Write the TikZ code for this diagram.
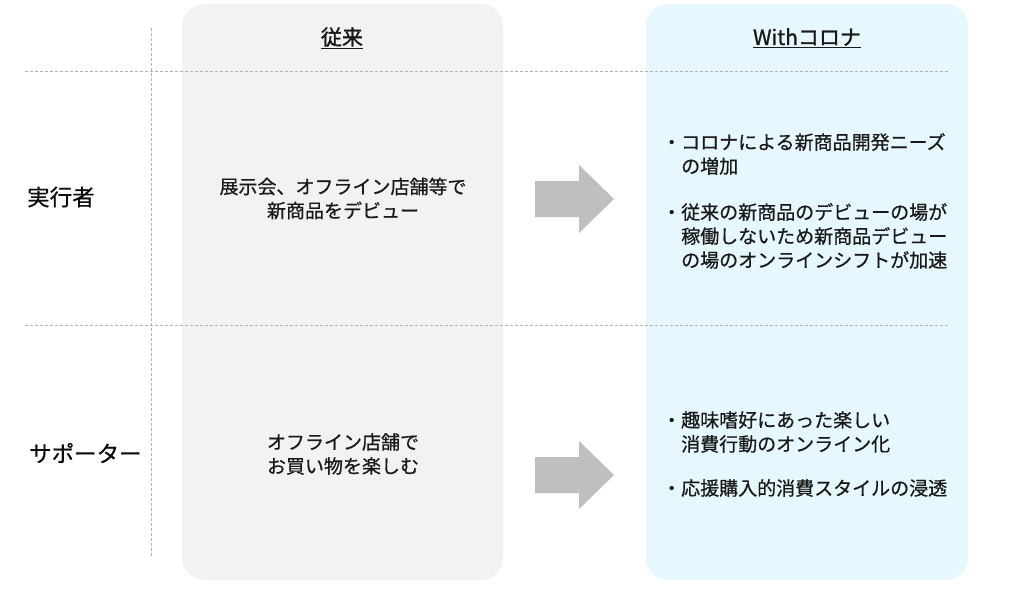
\documentclass[tikz,border=0pt]{standalone}
\usepackage{fontspec}
\setmainfont{Noto Sans CJK JP}
\newfontfamily\medfont[FakeBold=0.6]{Noto Sans CJK JP}
\newfontfamily\headfont[FakeBold=1.2]{Noto Sans CJK JP}
\begin{document}
\begin{tikzpicture}[x=1pt,y=-1pt,
  txt/.style={inner sep=0pt,text=black!90,font=\medfont\fontsize{19}{24}\selectfont},
  head/.style={inner sep=0pt,text=black!90,font=\headfont\fontsize{21}{24}\selectfont},
  rowlab/.style={inner sep=0pt,text=black!95,font=\medfont\fontsize{22.5}{26}\selectfont},
  sep/.style={draw=black!30,line width=0.8pt,dash pattern=on 3pt off 2pt},
  bigarrow/.style={fill=black!25}]
\useasboundingbox (0,0) rectangle (1024,602);
\fill[white] (0,0) rectangle (1024,602);
% column boxes
\fill[black!5,rounded corners=22pt] (182,4) rectangle (503,580);
\fill[cyan!10!white,rounded corners=22pt] (646,4) rectangle (968,580);
% separators
\draw[sep] (25,71) -- (950,71);
\draw[sep] (25,325) -- (950,325);
\draw[sep] (151,28) -- (151,556);
% headers
\node[head] (h1) at (342,38) {\underline{従来}};
\node[head] (h2) at (807,38) {\underline{Withコロナ}};
% row labels
\node[rowlab,anchor=west] (r1) at (27,197) {実行者};
\node[rowlab,anchor=west] (r2) at (29,453) {サポーター};
% old texts
\node[txt,align=center] (o1) at (343,198.5) {展示会、オフライン店舗等で\\新商品をデビュー};
\node[txt,align=center] (o2) at (343,454) {オフライン店舗で\\お買い物を楽しむ};
% arrows
\fill[bigarrow] (535,181) -- (579,181) -- (579,165) -- (614,199) -- (579,233) -- (579,217) -- (535,217) -- cycle;
\fill[bigarrow] (535,457) -- (579,457) -- (579,441) -- (614,475) -- (579,509) -- (579,493) -- (535,493) -- cycle;
% new texts
\node[txt,align=left,anchor=west] (n1) at (662,154) {・コロナによる新商品開発ニーズ\\\hspace*{1em}の増加};
\node[txt,align=left,anchor=west] (n2) at (662,236) {・従来の新商品のデビューの場が\\\hspace*{1em}稼働しないため新商品デビュー\\\hspace*{1em}の場のオンラインシフトが加速};
\node[txt,align=left,anchor=west] (n3) at (662,432) {・趣味嗜好にあった楽しい\\\hspace*{1em}消費行動のオンライン化};
\node[txt,align=left,anchor=west] (n4) at (662,488) {・応援購入的消費スタイルの浸透};
\end{tikzpicture}
\end{document}
